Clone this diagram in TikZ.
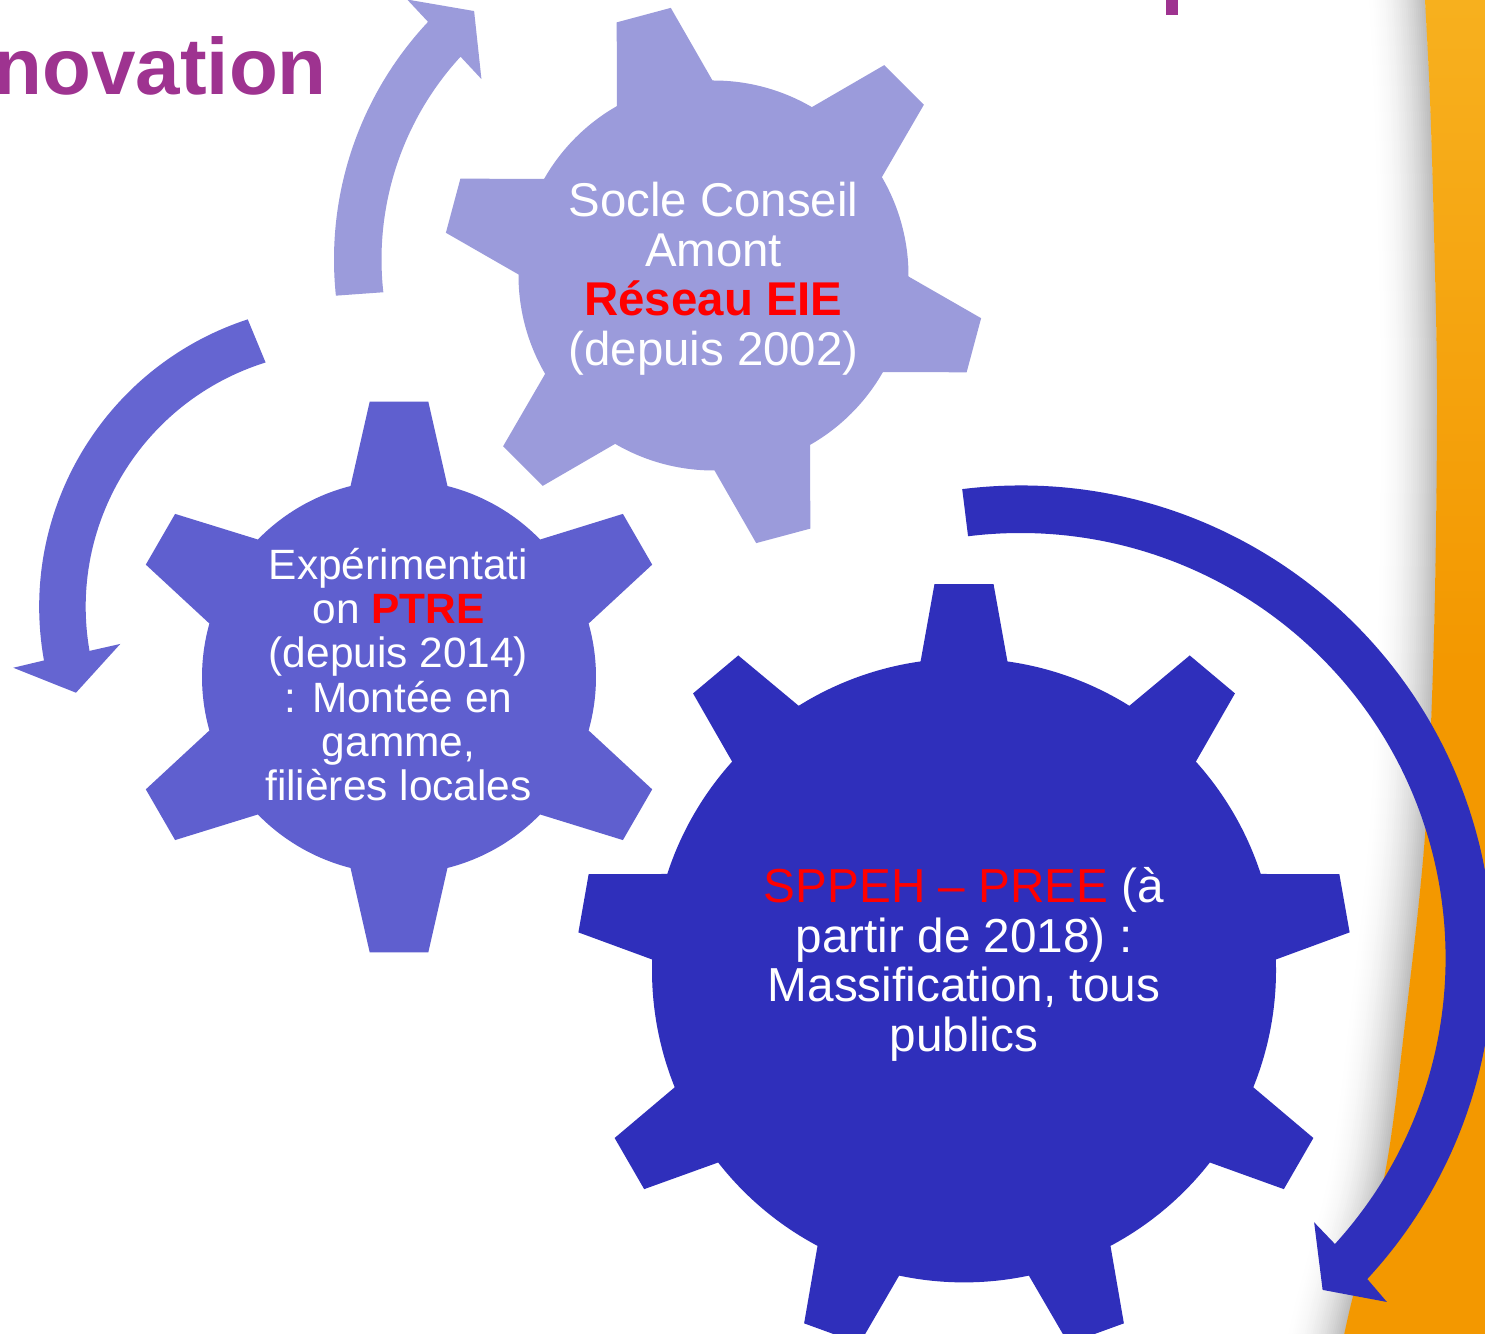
\documentclass[tikz,border=0pt]{standalone}
\usepackage{fontspec}
\setmainfont{Liberation Sans}
\definecolor{gearA}{HTML}{9B9BDB}
\definecolor{gearB}{HTML}{5F5FCF}
\definecolor{gearC}{HTML}{2F2FBB}
\definecolor{arrB}{HTML}{6565D1}
\definecolor{titlepurple}{HTML}{9E3390}
\definecolor{bandyellow}{HTML}{FCC733}
\definecolor{bandmid}{HTML}{F7AE1C}
\definecolor{bandorange}{HTML}{F39800}
\definecolor{txtred}{HTML}{FF0000}
\pgfdeclareverticalshading{bandshade}{100bp}{color(0bp)=(bandorange); color(50bp)=(bandorange); color(72bp)=(bandmid); color(100bp)=(bandyellow)}
\tikzset{
  gtext/.style={anchor=base, inner sep=0pt, text=white},
}
\begin{document}
\begin{tikzpicture}[x=1pt,y=1pt]
\useasboundingbox (0,0) rectangle (1485,1333);
\clip (0,0) rectangle (1485,1333);
\fill[white] (0,0) rectangle (1485,1333);

% page-curl shadow
\foreach \i in {0,...,29}{
  \pgfmathsetmacro{\sh}{26*(1-\i/30)^2}
  \draw[line width=2.6pt, color=black!\sh, xshift={-(2*\i+1)*1pt}]
    plot[smooth, tension=0.55] coordinates {(1424,1350) (1425,1333) (1430,1233) (1434,1100) (1437,933) (1434,700) (1425,498) (1405,310) (1385,160) (1352,33) (1341,-17)};
}
% orange band
\shade[shading=bandshade]
  plot[smooth, tension=0.55] coordinates {(1424,1350) (1425,1333) (1430,1233) (1434,1100) (1437,933) (1434,700) (1425,498) (1405,310) (1385,160) (1352,33) (1341,-17)}
  -- (1490,-17) -- (1490,1350) -- cycle;

% title fragments
\node[anchor=base east, inner sep=0pt, text=titlepurple, font=\fontsize{80}{96}\selectfont\bfseries] (title) at (327,1238.7) {novation};
\fill[titlepurple] (1166,1318) rectangle (1178,1340);

% circular arrows
\fill[gearA, shift={(681,1073.6)}]
  (186:347) arc[start angle=186, end angle=136.8, radius=347]
  -- (136.5:377.5) -- (129.8:323.25) -- (137.9:269) -- (137.4:299.5)
  arc[start angle=137.4, end angle=186.3, radius=299.5] -- cycle;
\fill[arrB, shift={(341.7,726.1)}]
  (108.1:302.5) arc[start angle=108.1, end angle=190.2, radius=302.5]
  -- (190.5:334) -- (197.9:279.25) -- (189.5:224.5) -- (189.9:256)
  arc[start angle=189.9, end angle=107.3, radius=256] -- cycle;
\fill[gearC, shift={(1020.6,375)}]
  (97.1:472.5) arc[start angle=97.1, end angle=-42.8, radius=472.5]
  -- (-43.2:502.5) -- (-47.7:448.75) -- (-42:395) -- (-42.3:425)
  arc[start angle=-42.3, end angle=97.1, radius=425] -- cycle;

% gears
\fill[gearA, shift={(713.5,1057.5)}] (30.3:195)
  foreach \k in {0,...,5}{
    -- ({45+60*\k-5.93}:271) -- ({45+60*\k+5.93}:271) -- ({45+60*\k+14.7}:195)
    arc[start angle={45+60*\k+14.7}, end angle={105+60*\k-14.7}, radius=195]
  } -- cycle;
\fill[gearB, shift={(399,656)}] (15.75:197)
  foreach \k in {0,...,5}{
    -- ({30+60*\k-6.07}:277) -- ({30+60*\k+6.07}:277) -- ({30+60*\k+14.25}:197)
    arc[start angle={30+60*\k+14.25}, end angle={90+60*\k-14.25}, radius=197]
  } -- cycle;
\fill[gearC, shift={(964,362.6)}] (2:312)
  foreach \k in {0,...,8}{
    -- ({10+40*\k-4.37}:387.5) -- ({10+40*\k+4.37}:387.5) -- ({10+40*\k+8}:312)
    arc[start angle={10+40*\k+8}, end angle={50+40*\k-8}, radius=312]
  } -- cycle;

% texts
\node[gtext, font=\fontsize{47.4}{49.4}\selectfont] (t1) at (713.5,1116.2)
  {\begin{tabular}[t]{@{}c@{}}Socle Conseil\\Amont\\\textbf{\textcolor{txtred}{Réseau EIE}}\\(depuis 2002)\end{tabular}};
\node[gtext, font=\fontsize{42.4}{44}\selectfont] (t2) at (398.5,753)
  {\begin{tabular}[t]{@{}c@{}}Expérimentati\\on \textbf{\textcolor{txtred}{PTRE}}\\(depuis 2014)\\: Montée en\\gamme,\\filières locales\end{tabular}};
\node[gtext, font=\fontsize{47.7}{49.6}\selectfont] (t3) at (964,430.3)
  {\begin{tabular}[t]{@{}c@{}}\textcolor{txtred}{SPPEH – PREE} (à\\partir de 2018) :\\Massification, tous\\publics\end{tabular}};
\end{tikzpicture}
\end{document}
